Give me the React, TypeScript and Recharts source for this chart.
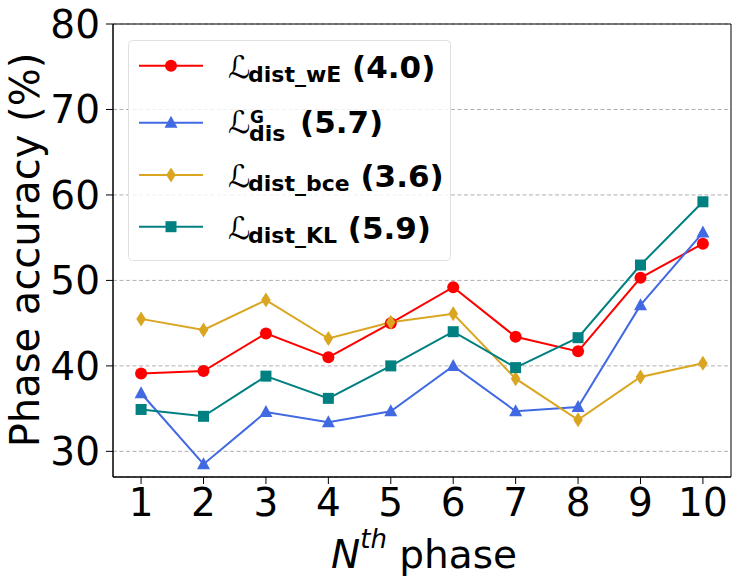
import React from "react";
import {
  LineChart,
  Line,
  XAxis,
  YAxis,
  CartesianGrid,
  ReferenceArea,
  Legend,
} from "recharts";

const phases = [1, 2, 3, 4, 5, 6, 7, 8, 9, 10];
const distWE = [39.1, 39.4, 43.8, 41.0, 45.0, 49.2, 43.4, 41.7, 50.3, 54.3];
const disG = [36.8, 28.5, 34.6, 33.4, 34.7, 40.0, 34.7, 35.2, 47.1, 55.6];
const distBce = [45.5, 44.2, 47.7, 43.2, 45.1, 46.1, 38.5, 33.7, 38.7, 40.3];
const distKL = [34.9, 34.1, 38.8, 36.2, 40.0, 44.0, 39.8, 43.3, 51.8, 59.2];

const yTicks = [30, 40, 50, 60, 70, 80];
const legendSubs = ["dist_wE", "dis", "dist_bce", "dist_KL"];
const legendSups = ["", "G", "", ""];
const legendScores = ["(4.0)", "(5.7)", "(3.6)", "(5.9)"];

const FONT = "DejaVu Sans";

type Shape = "circle" | "triangle" | "diamond" | "square";

const SERIES: { key: string; color: string; shape: Shape }[] = [
  { key: "wE", color: "#ff0000", shape: "circle" },
  { key: "disG", color: "#4169e1", shape: "triangle" },
  { key: "bce", color: "#daa520", shape: "diamond" },
  { key: "kl", color: "#008080", shape: "square" },
];

const data = phases.map((phase, i) => ({
  phase,
  wE: distWE[i],
  disG: disG[i],
  bce: distBce[i],
  kl: distKL[i],
}));

function marker(shape: Shape, cx: number, cy: number, color: string, key?: string) {
  switch (shape) {
    case "circle":
      return <circle key={key} cx={cx} cy={cy} r={6} fill={color} />;
    case "triangle":
      return (
        <path
          key={key}
          d={`M${cx},${cy - 7} L${cx + 6.5},${cy + 5} L${cx - 6.5},${cy + 5} Z`}
          fill={color}
        />
      );
    case "diamond":
      return (
        <path
          key={key}
          d={`M${cx},${cy - 7.5} L${cx + 4.8},${cy} L${cx},${cy + 7.5} L${cx - 4.8},${cy} Z`}
          fill={color}
        />
      );
    default:
      return <rect key={key} x={cx - 5.5} y={cy - 5.5} width={11} height={11} fill={color} />;
  }
}

const rowY = [25.7, 82.7, 135, 186.7];

function LegendBox() {
  return (
    <svg width={324} height={222} style={{ display: "block" }}>
      <rect
        x={0.5}
        y={0.5}
        width={322}
        height={220}
        rx={4}
        fill="#ffffff"
        fillOpacity={0.8}
        stroke="#e0e0e0"
      />
      {SERIES.map((s, i) => {
        const y = rowY[i];
        const hasSup = !!legendSups[i];
        const base = y + (hasSup ? 10.6 : 12.3);
        return (
          <g key={s.key}>
            <line x1={11} x2={75} y1={y} y2={y} stroke={s.color} strokeWidth={2} />
            {marker(s.shape, 43, y, s.color)}
            {hasSup ? (
              <text x={100} y={base} fontFamily={FONT} fill="#000">
                <tspan fontStyle="italic" fontSize={31}>ℒ</tspan>
                <tspan x={122} dy={-10} fontWeight="bold" fontSize={17}>
                  {legendSups[i]}
                </tspan>
                <tspan x={121} dy={18} fontWeight="bold" fontSize={22}>
                  {legendSubs[i]}
                </tspan>
                <tspan x={172} dy={-8} fontWeight="bold" fontSize={31}>
                  {legendScores[i]}
                </tspan>
              </text>
            ) : (
              <text x={100} y={base} fontFamily={FONT} fill="#000">
                <tspan fontStyle="italic" fontSize={31}>ℒ</tspan>
                <tspan x={120} dy={4} fontWeight="bold" fontSize={22}>
                  {legendSubs[i]}
                </tspan>
                <tspan dy={-4} fontWeight="bold" fontSize={31}>
                  {" " + legendScores[i]}
                </tspan>
              </text>
            )}
          </g>
        );
      })}
    </svg>
  );
}

const tickStyle = { fontSize: 39, fill: "#000", fontFamily: FONT };

export default function App() {
  return (
    <div style={{ position: "absolute", left: 0, top: 0, background: "#fff" }}>
      <LineChart
        width={746}
        height={588}
        data={data}
        margin={{ top: 24, right: 15, bottom: 0, left: 0 }}
      >
        <CartesianGrid vertical={false} stroke="#b0b0b0" strokeDasharray="4 2.5" />
        <XAxis
          dataKey="phase"
          type="number"
          domain={[0.55, 10.45]}
          ticks={phases}
          allowDataOverflow
          height={111}
          tick={tickStyle}
          tickSize={7}
          tickMargin={4}
          tickLine={{ stroke: "#000" }}
          axisLine={{ stroke: "#000" }}
          label={{
            content: () => (
              <text x={424} y={568} textAnchor="middle" fontFamily={FONT} fontSize={39} fill="#000">
                <tspan fontStyle="italic">N</tspan>
                <tspan fontStyle="italic" fontSize={26} dy={-20}>
                  th
                </tspan>
                <tspan dy={20}> phase</tspan>
              </text>
            ),
          }}
        />
        <YAxis
          type="number"
          domain={[27, 80]}
          ticks={yTicks}
          allowDataOverflow
          width={113}
          tick={tickStyle}
          tickSize={7}
          tickMargin={6}
          tickLine={{ stroke: "#000" }}
          axisLine={{ stroke: "#000" }}
          label={{
            content: () => (
              <text
                x={38.5}
                y={250}
                transform="rotate(-90 38.5 250)"
                textAnchor="middle"
                fontFamily={FONT}
                fontSize={40}
                fill="#000"
              >
                Phase accuracy (%)
              </text>
            ),
          }}
        />
        <ReferenceArea
          x1={0.55}
          x2={10.45}
          y1={27}
          y2={80}
          fill="none"
          stroke="#000"
          strokeWidth={1}
          ifOverflow="visible"
        />
        {SERIES.map((s) => (
          <Line
            key={s.key}
            dataKey={s.key}
            stroke={s.color}
            strokeWidth={2}
            isAnimationActive={false}
            dot={(p: any) => marker(s.shape, p.cx, p.cy, s.color, `${s.key}-${p.index}`)}
            activeDot={false}
          />
        ))}
        <Legend
          layout="vertical"
          align="center"
          verticalAlign="middle"
          content={() => <LegendBox />}
          wrapperStyle={{ position: "absolute", left: 128, top: 40, width: 324, height: 222 }}
        />
      </LineChart>
    </div>
  );
}
